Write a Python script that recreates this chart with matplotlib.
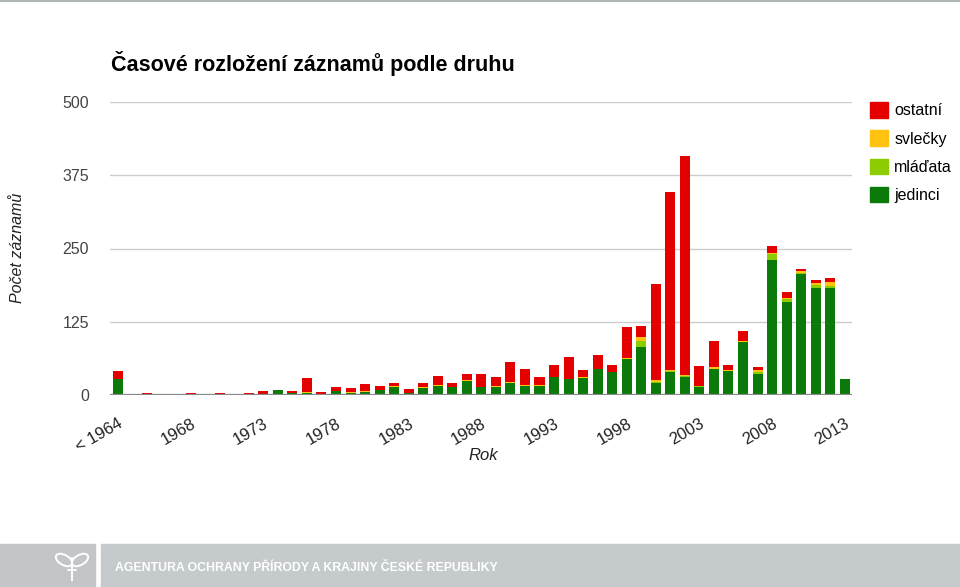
import numpy as np
import matplotlib
matplotlib.use('Agg')
import matplotlib.pyplot as plt
from matplotlib.patches import Patch, Rectangle, Ellipse

plt.rcParams['font.family'] = ['Liberation Sans', 'DejaVu Sans']

years = ['< 1964'] + [str(y) for y in range(1964, 2014)]
jedinci = [28, 0, 2, 0, 1, 2, 0, 1, 0, 1, 1, 9, 3, 4, 1, 6, 4, 5, 8, 14,
           3, 12, 16, 13, 24, 13, 14, 21, 16, 16, 30, 27, 29, 44, 39, 61, 82, 21, 39, 31,
           14, 45, 41, 91, 36, 230, 159, 206, 182, 182, 27]
mladata = [0, 0, 0, 0, 0, 0, 0, 0, 0, 0, 0, 0, 0, 0, 0, 0, 0, 0, 0, 0,
           0, 0, 0, 0, 0, 0, 0, 0, 0, 0, 0, 0, 0, 0, 0, 1, 11, 2, 2, 1,
           1, 0, 0, 0, 4, 10, 5, 3, 5, 4, 0]
svlecky = [0, 0, 0, 0, 0, 0, 0, 0, 0, 0, 0, 0, 0, 1, 0, 1, 1, 1, 1, 1,
           1, 1, 1, 1, 1, 1, 1, 1, 1, 1, 1, 1, 1, 1, 1, 1, 6, 2, 2, 2,
           0, 2, 1, 1, 2, 2, 2, 2, 4, 7, 0]
ostatni = [13, 0, 1, 0, 1, 2, 1, 3, 0, 3, 5, 0, 3, 24, 4, 6, 7, 12, 7, 5,
           6, 7, 15, 6, 10, 21, 15, 35, 27, 13, 21, 37, 12, 24, 11, 53, 18, 164, 304, 374,
           35, 46, 9, 18, 5, 12, 9, 4, 5, 6, 1]

series = [('jedinci', jedinci, '#0b7a0b'),
          ('mláďata', mladata, '#8ccc00'),
          ('svlečky', svlecky, '#ffc20e'),
          ('ostatní', ostatni, '#e50000')]

fig = plt.figure(figsize=(9.6, 5.87), dpi=100)
ax = fig.add_axes([110/960, 1-395/587, 742/960, 293/587])

x = np.arange(len(years))
bottom = np.zeros(len(years))
for name, vals, col in series:
    v = np.array(vals, dtype=float)
    ax.bar(x, v, width=0.69, bottom=bottom, color=col, linewidth=0)
    bottom += v

ax.set_xlim(-0.55, 50.5)
ax.set_ylim(0, 500)
ax.set_yticks([0, 125, 250, 375, 500])
ax.yaxis.grid(True, color='#cccccc', linewidth=1)
ax.set_axisbelow(True)
ax.axhline(0, color='#888888', linewidth=1.6, zorder=5)
for s in ax.spines.values():
    s.set_visible(False)
ax.tick_params(axis='y', length=0, pad=15, labelsize=11.5, labelcolor='#444444')
ax.set_xticks(x[::5])
ax.set_xticklabels(years[::5], rotation=30, ha='right', rotation_mode='anchor',
                   fontsize=12, color='#222222')
ax.tick_params(axis='x', length=0, pad=15)

fig.text(111/960, 1-63/587, 'Časové rozložení záznamů podle druhu',
         fontsize=15.5, fontweight='bold', va='center', ha='left')
fig.text(18/960, 1-248/587, 'Počet záznamů', rotation=90, style='italic',
         fontsize=11.5, va='center', ha='center', color='#222222')
fig.text(483/960, 1-455/587, 'Rok', style='italic', fontsize=12,
         va='center', ha='center', color='#222222')

handles = [Patch(color=c, label=n) for n, _, c in series[::-1]]
fig.legend(handles=handles, loc='upper left', bbox_to_anchor=(864/960, 1-96/587),
           frameon=False, fontsize=11.5, handlelength=1.1, handleheight=1.1,
           handletextpad=0.4, labelspacing=0.75, borderaxespad=0)

# footer band
fig.patches.append(Rectangle((0, 0), 95/960, 43/587, transform=fig.transFigure,
                             color='#c2c6c8', zorder=0))
fig.patches.append(Rectangle((101/960, 0), 1, 43/587, transform=fig.transFigure,
                             color='#c5cacc', zorder=0))
fig.text(115/960, 1-568/587, 'AGENTURA OCHRANY PŘÍRODY A KRAJINY ČESKÉ REPUBLIKY',
         fontsize=8.8, fontweight='bold', color='white', va='center', ha='left')
fig.add_artist(plt.Line2D([0, 1], [1-1/587, 1-1/587], transform=fig.transFigure,
                          color='#b0b5b8', linewidth=1.5))

# simple leaf logo
logo = fig.add_axes([52/960, 1-584/587, 40/960, 36/587], zorder=3)
logo.set_xlim(0, 40)
logo.set_ylim(0, 36)
logo.axis('off')
logo.patch.set_alpha(0)
logo.add_patch(Ellipse((12, 24), 18, 10, angle=-30, fill=False, ec='white', lw=1.4))
logo.add_patch(Ellipse((28, 24), 18, 10, angle=30, fill=False, ec='white', lw=1.4))
logo.plot([20, 20], [4, 26], color='white', lw=1.4)
logo.plot([16, 24], [14, 14], color='white', lw=1.2)

plt.savefig('out.png', dpi=100)
